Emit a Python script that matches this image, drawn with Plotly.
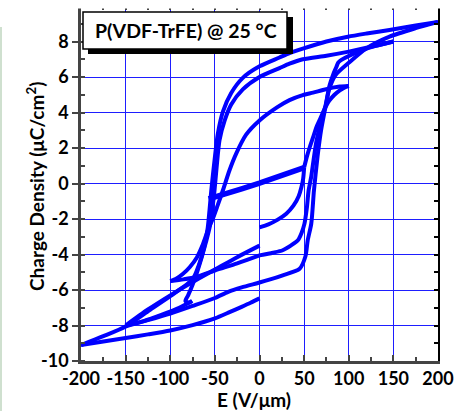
import plotly.graph_objects as go

# ---------------- tick labels ----------------
x_tickvals = [-200, -150, -100, -50, 0, 50, 100, 150, 200]
x_ticktext = ["-200", "-150", "-100", "-50", "0", "50", "100", "150", "200"]
y_tickvals = [-10, -8, -6, -4, -2, 0, 2, 4, 6, 8, 10]
y_ticktext = ["-10", "-8", "-6", "-4", "-2", "0", "2", "4", "6", "8", "10"]

# ---------------- data: E (V/um), charge density (uC/cm^2) ----------------
# +/-50 V/um run
E_50_up = [0, 10, 20, 30, 38, 44, 47, 49, 50]
Q_50_up = [-2.47, -2.3, -2.05, -1.7, -1.25, -0.7, -0.2, 0.3, 0.88]
E_50_lin = [50, 22, 0, -20, -40, -57]
Q_50_lin = [0.9, 0.38, 0.02, -0.3, -0.6, -0.87]

# +/-100 V/um run
E_100_up = [50, 53, 56, 60, 64, 68, 73, 78, 84, 90, 95, 100]
Q_100_up = [0.9, 1.5, 2.0, 2.6, 3.2, 3.65, 4.2, 4.65, 5.0, 5.25, 5.4, 5.5]
E_100_dn = [100, 90, 82, 71, 60, 48.5, 33.6, 20, 0, -15, -26, -33.6, -41, -47, -52, -56,
            -59, -64, -70, -78, -86, -93, -100]
Q_100_dn = [5.5, 5.47, 5.4, 5.27, 5.12, 4.98, 4.7, 4.3, 3.55, 2.75, 1.7, 0.75, -0.38, -1.25,
            -1.95, -2.4, -2.8, -3.5, -4.15, -4.7, -5.1, -5.35, -5.5]
E_100_ret = [-100, -85, -71, -50, -25, 0]
Q_100_ret = [-5.5, -5.4, -5.27, -4.9, -4.5, -4.05]

# +/-150 V/um run
E_150_up = [0, 15, 26, 35, 43, 47, 50.4, 53, 55, 58, 60.5, 63.5, 67, 70, 74, 78.4, 83, 86,
            88, 90, 95, 105, 115.7, 130, 150]
Q_150_up = [-4.05, -3.9, -3.76, -3.5, -3.2, -2.8, -2.26, -1.4, -0.4, 0.4, 1.3, 2.3, 3.1, 3.7,
            4.4, 5.5, 6.2, 6.55, 6.8, 6.9, 7.05, 7.3, 7.52, 7.75, 8.0]
E_150_dn = [150, 125, 100, 75, 48.5, 33.6, 22.4, 0, -18.7, -31.7, -39, -44.8, -48, -50.4,
            -53, -56, -60, -65, -70, -75, -80, -83, -79, -75.5]
Q_150_dn = [8.0, 7.7, 7.43, 7.2, 7.0, 6.75, 6.5, 6.0, 5.3, 4.45, 3.55, 2.44, 0.94, -0.38,
            -1.5, -2.5, -3.3, -4.2, -5.0, -5.7, -6.3, -6.62, -6.72, -6.62]
E_150_tail = [-75.5, -90, -110, -130, -150]
Q_150_tail = [-6.62, -7.0, -7.4, -7.75, -8.0]
E_150_ret = [-150, -125, -100, -75, -50, -25, 0]
Q_150_ret = [-8.0, -7.1, -6.3, -5.55, -4.85, -4.15, -3.5]

# +/-200 V/um run
E_200_up = [-150, -125, -100, -75, -50, -35, -20, 0, 11, 26, 45, 51.5, 54, 58, 61, 65, 69,
            74.7, 78, 85, 100, 119.5, 145.7, 175, 200]
Q_200_up = [-8.05, -7.7, -7.33, -6.9, -6.45, -6.1, -5.85, -5.58, -5.42, -5.17, -4.8, -4.1,
            -3.2, -2.26, -0.4, 1.5, 3.0, 4.5, 5.3, 6.1, 6.8, 7.6, 8.27, 8.75, 9.1]
E_200_dn = [200, 175, 145.7, 120, 99, 75, 48.5, 33.6, 22.4, 0, -18.7, -31.7, -41, -46.7,
            -50.4, -54, -56, -58, -62, -68, -75, -100, -125, -150, -175, -200]
Q_200_dn = [9.1, 8.9, 8.65, 8.45, 8.27, 8.0, 7.6, 7.35, 7.1, 6.6, 5.95, 5.1, 4.05, 2.8,
            1.3, -0.38, -1.5, -2.5, -3.6, -4.6, -5.4, -6.35, -7.2, -8.05, -8.6, -9.1]
E_200_ret = [-200, -175, -150, -125, -100, -75, -50, -33.6, -20, -10, 0]
Q_200_ret = [-9.1, -8.9, -8.7, -8.5, -8.28, -7.98, -7.6, -7.25, -6.95, -6.72, -6.47]

branches = [
    (E_50_up, Q_50_up), (E_100_up, Q_100_up), (E_100_dn, Q_100_dn), (E_100_ret, Q_100_ret),
    (E_150_up, Q_150_up), (E_150_dn, Q_150_dn), (E_150_tail, Q_150_tail),
    (E_150_ret, Q_150_ret), (E_200_up, Q_200_up), (E_200_dn, Q_200_dn),
]

BLUE = "#0000ff"
fig = go.Figure()
for ex, qy in branches:
    fig.add_trace(go.Scatter(x=ex, y=qy, mode="lines",
                             line=dict(color=BLUE, width=4, shape="spline", smoothing=0.7),
                             showlegend=False, hoverinfo="skip"))
# double-traced linear segment (looks thicker)
fig.add_trace(go.Scatter(x=E_50_lin, y=Q_50_lin, mode="lines", line=dict(color=BLUE, width=5.5),
                         showlegend=False, hoverinfo="skip"))
# last branch drawn on the mirror axes (same ranges) so they render
fig.add_trace(go.Scatter(x=E_200_ret, y=Q_200_ret, mode="lines",
                         line=dict(color=BLUE, width=4, shape="spline", smoothing=0.7),
                         showlegend=False, hoverinfo="skip", xaxis="x2", yaxis="y2"))

W, H = 468, 411
L, R, T, B = 81, 30, 6, 50
PW, PH = W - L - R, H - T - B


def pxx(x):
    return (x - L) / PW


def pxy(y):
    return (H - B - y) / PH


AX = "#444444"
GRID = "rgb(30,30,255)"
TF = dict(family="Lato", size=18, color="black", weight="bold")

fig.update_layout(
    width=W, height=H, margin=dict(l=L, r=R, t=T, b=B, autoexpand=False),
    plot_bgcolor="white", paper_bgcolor="white",
    xaxis=dict(range=[-200, 200], tickvals=x_tickvals, ticktext=x_ticktext, tickfont=TF,
               automargin=False,
               ticks="inside", ticklen=6, tickwidth=2, tickcolor=AX,
               showline=True, linecolor=AX, linewidth=2.5, showgrid=True, gridcolor=GRID,
               gridwidth=1.3, zeroline=False,
               minor=dict(dtick=25, tick0=0, ticks="inside", ticklen=4, tickwidth=1.5,
                          tickcolor=AX, showgrid=False)),
    yaxis=dict(range=[-10, 10], tickvals=y_tickvals, ticktext=y_ticktext, tickfont=TF,
               automargin=False,
               ticks="outside", ticklen=6, tickwidth=2, tickcolor=AX,
               showline=True, linecolor=AX, linewidth=2.5, showgrid=True, gridcolor=GRID,
               gridwidth=1.3, zeroline=False,
               minor=dict(dtick=1, tick0=0, ticks="inside", ticklen=4, tickwidth=1.5,
                          tickcolor=AX, showgrid=False)),
    xaxis2=dict(range=[-200, 200], overlaying="x", side="top", anchor="y", dtick=25, tick0=0,
                automargin=False,
                ticks="inside", ticklen=4, tickwidth=1.5, tickcolor=AX, showticklabels=False,
                showgrid=False, zeroline=False, showline=False),
    yaxis2=dict(range=[-10, 10], overlaying="y", side="right", anchor="x", dtick=1, tick0=0,
                automargin=False,
                ticks="inside", ticklen=4, tickwidth=1.5, tickcolor="black",
                showticklabels=False, showgrid=False, zeroline=False, showline=True,
                linecolor="black", linewidth=1.5),
    shapes=[
        # cropped top strip
        dict(type="rect", xref="paper", yref="paper", x0=-0.5, x1=1.5, y0=pxy(8.5), y1=pxy(-5),
             fillcolor="white", line=dict(width=0), layer="above"),
        # title box shadow
        dict(type="rect", xref="paper", yref="paper", x0=pxx(88), x1=pxx(293), y0=pxy(54),
             y1=pxy(17), fillcolor="black", line=dict(width=0), layer="above"),
        # title box
        dict(type="rect", xref="paper", yref="paper", x0=pxx(83), x1=pxx(287), y0=pxy(49),
             y1=pxy(12), fillcolor="white", line=dict(color="black", width=1.5), layer="above"),
        # faint left border line
        dict(type="line", xref="paper", yref="paper", x0=pxx(1), x1=pxx(1), y0=pxy(27),
             y1=pxy(411), line=dict(color="#cfe0cf", width=2), layer="above"),
    ],
    annotations=[
        dict(text="P(VDF-TrFE) @ 25 °C", xref="paper", yref="paper", x=pxx(186), y=pxy(30),
             xanchor="center", yanchor="middle", showarrow=False,
             font=dict(family="Lato", size=19.5, color="black", weight="bold")),
        dict(text="E (V/μm)", xref="paper", yref="paper", x=pxx(254), y=pxy(399),
             xanchor="center", yanchor="middle", showarrow=False,
             font=dict(family="Lato", size=19, color="black", weight="bold")),
        dict(text="Charge Density (μC/cm<sup>2</sup>)", xref="paper", yref="paper",
             x=pxx(35), y=pxy(187), textangle=-90, xanchor="center", yanchor="middle",
             showarrow=False, font=dict(family="Lato", size=19, color="black", weight="bold")),
    ],
)

fig.write_html("out.html", config={"displayModeBar": False},
               post_script="document.body.style.margin='0';document.body.style.padding='0';")
